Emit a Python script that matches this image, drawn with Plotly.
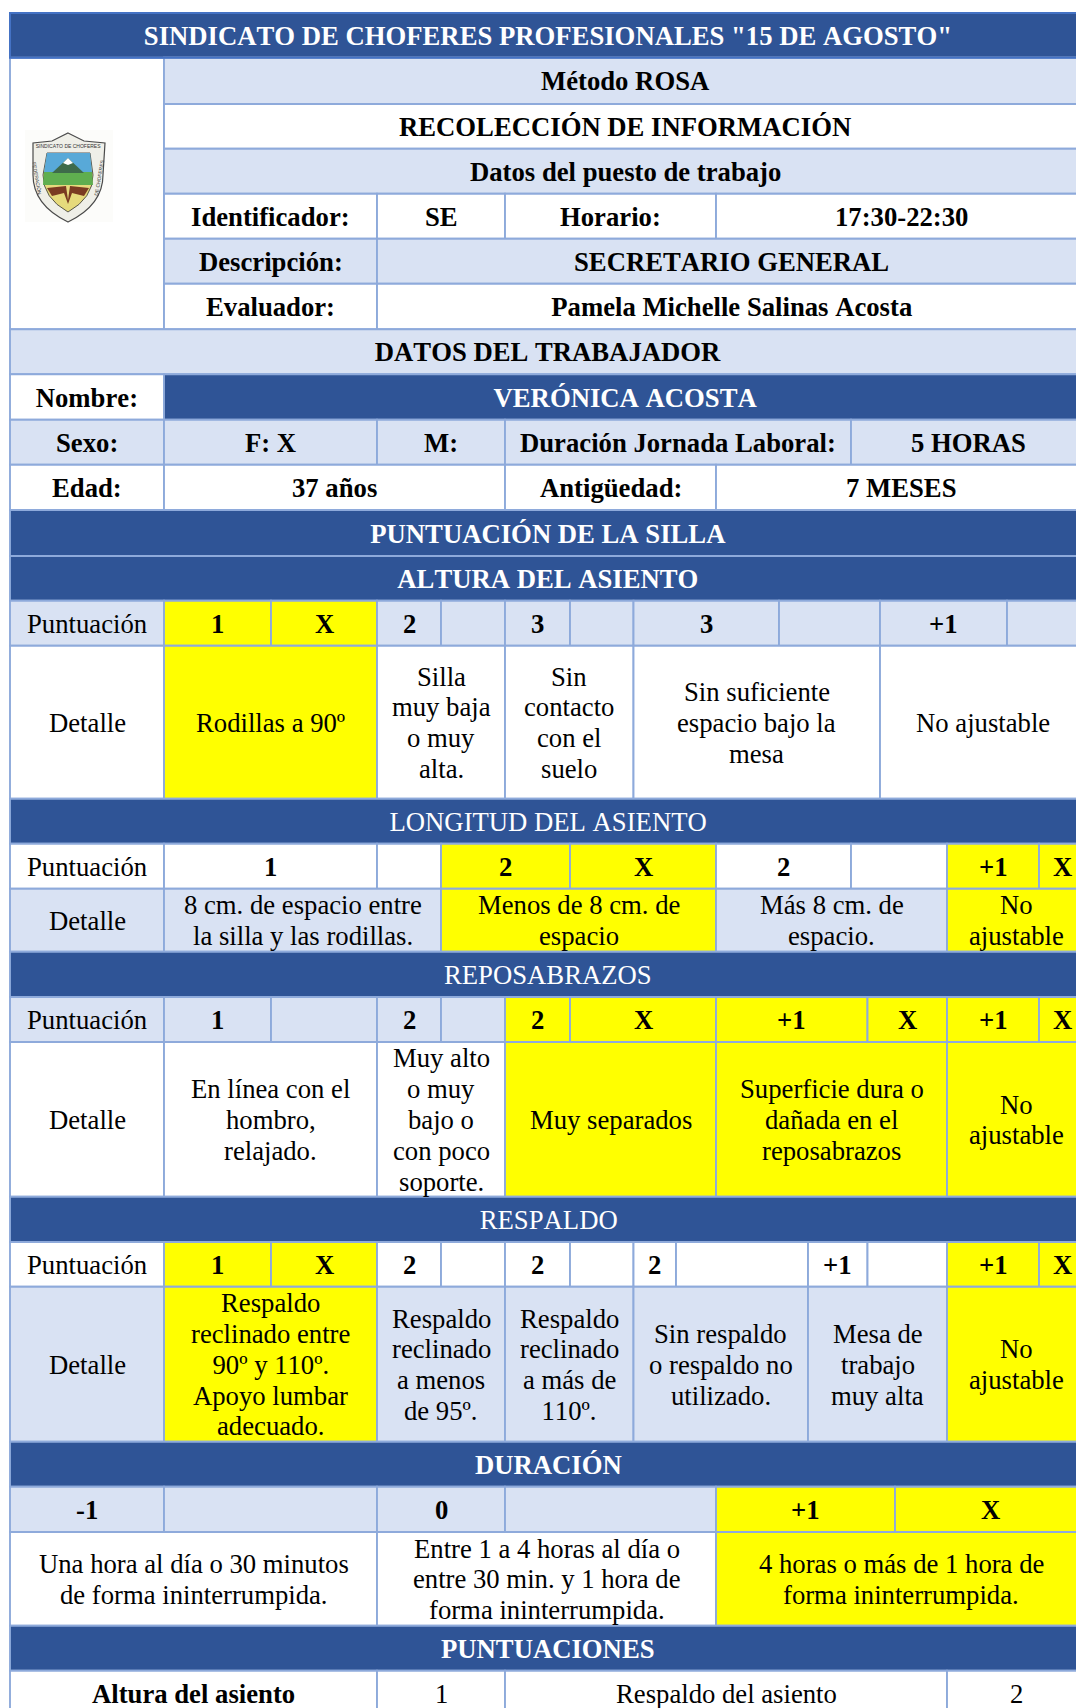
import plotly.graph_objects as go

# ---------- palette ----------
DARK = "#2F5496"
LIGHT = "#D9E2F3"
WHITE = "#FFFFFF"
YELLOW = "#FFFF00"
BORDER = "#8EAADB"
TITLE_BORDER = "#4472C4"
FONT = "Liberation Serif"
FONT_PX = 26.7
LINE_PX = 30.8

# ---------- table grid (column edges named a..z, row bottoms) ----------
COL = dict(a=10, b=164, c=271, d=377, e=441, f=505, g=570, h=633.5, i=676, j=716,
           k=779, l=808, m=851, n=867.5, o=880, p=895, q=947, r=1007, s=1039, z=1086)
ROW_EDGES = [13, 57.7, 104, 148.7, 193.7, 238.7, 283.7, 329.3, 374.3, 419.7, 464.7, 510,
             556, 600.7, 645.7, 798.7, 843.7, 888.7, 951.7, 997, 1042, 1196.7, 1242,
             1286.7, 1441.7, 1486.7, 1532, 1625.7, 1670.7, 1716]

# ---------- table content: (columns, text, fill, weight) ----------
B, N = "bold", "normal"
rows = [
    [("az", 'SINDICATO DE CHOFERES PROFESIONALES "15 DE AGOSTO"', DARK, B)],
    [("bz", "Método ROSA", LIGHT, B)],
    [("bz", "RECOLECCIÓN DE INFORMACIÓN", WHITE, B)],
    [("bz", "Datos del puesto de trabajo", LIGHT, B)],
    [("bd", "Identificador:", WHITE, B), ("df", "SE", WHITE, B), ("fj", "Horario:", WHITE, B), ("jz", "17:30-22:30", WHITE, B)],
    [("bd", "Descripción:", LIGHT, B), ("dz", "SECRETARIO GENERAL", LIGHT, B)],
    [("bd", "Evaluador:", WHITE, B), ("dz", "Pamela Michelle Salinas Acosta", WHITE, B)],
    [("az", "DATOS DEL TRABAJADOR", LIGHT, B)],
    [("ab", "Nombre:", WHITE, B), ("bz", "VERÓNICA ACOSTA", DARK, B)],
    [("ab", "Sexo:", LIGHT, B), ("bd", "F: X", LIGHT, B), ("df", "M:", LIGHT, B), ("fm", "Duración Jornada Laboral:", LIGHT, B), ("mz", "5 HORAS", LIGHT, B)],
    [("ab", "Edad:", WHITE, B), ("bf", "37 años", WHITE, B), ("fj", "Antigüedad:", WHITE, B), ("jz", "7 MESES", WHITE, B)],
    [("az", "PUNTUACIÓN DE LA SILLA", DARK, B)],
    [("az", "ALTURA DEL ASIENTO", DARK, B)],
    [("ab", "Puntuación", LIGHT, N), ("bc", "1", YELLOW, B), ("cd", "X", YELLOW, B), ("de", "2", LIGHT, B), ("ef", "", LIGHT, B),
     ("fg", "3", LIGHT, B), ("gh", "", LIGHT, B), ("hk", "3", LIGHT, B), ("ko", "", LIGHT, B), ("or", "+1", LIGHT, B), ("rz", "", LIGHT, B)],
    [("ab", "Detalle", WHITE, N), ("bd", "Rodillas a 90º", YELLOW, N), ("df", "Silla|muy baja|o muy|alta.", WHITE, N),
     ("fh", "Sin|contacto|con el|suelo", WHITE, N), ("ho", "Sin suficiente|espacio bajo la|mesa", WHITE, N), ("oz", "No ajustable", WHITE, N)],
    [("az", "LONGITUD DEL ASIENTO", DARK, N)],
    [("ab", "Puntuación", WHITE, N), ("bd", "1", WHITE, B), ("de", "", WHITE, B), ("eg", "2", YELLOW, B), ("gj", "X", YELLOW, B),
     ("jm", "2", WHITE, B), ("mq", "", WHITE, B), ("qs", "+1", YELLOW, B), ("sz", "X", YELLOW, B)],
    [("ab", "Detalle", LIGHT, N), ("be", "8 cm. de espacio entre|la silla y las rodillas.", LIGHT, N), ("ej", "Menos de 8 cm. de|espacio", YELLOW, N),
     ("jq", "Más 8 cm. de|espacio.", LIGHT, N), ("qz", "No|ajustable", YELLOW, N)],
    [("az", "REPOSABRAZOS", DARK, N)],
    [("ab", "Puntuación", LIGHT, N), ("bc", "1", LIGHT, B), ("cd", "", LIGHT, B), ("de", "2", LIGHT, B), ("ef", "", LIGHT, B), ("fg", "2", YELLOW, B),
     ("gj", "X", YELLOW, B), ("jn", "+1", YELLOW, B), ("nq", "X", YELLOW, B), ("qs", "+1", YELLOW, B), ("sz", "X", YELLOW, B)],
    [("ab", "Detalle", WHITE, N), ("bd", "En línea con el|hombro,|relajado.", WHITE, N), ("df", "Muy alto|o muy|bajo o|con poco|soporte.", WHITE, N),
     ("fj", "Muy separados", YELLOW, N), ("jq", "Superficie dura o|dañada en el|reposabrazos", YELLOW, N), ("qz", "No|ajustable", YELLOW, N)],
    [("az", "RESPALDO", DARK, N)],
    [("ab", "Puntuación", WHITE, N), ("bc", "1", YELLOW, B), ("cd", "X", YELLOW, B), ("de", "2", WHITE, B), ("ef", "", WHITE, B), ("fg", "2", WHITE, B),
     ("gh", "", WHITE, B), ("hi", "2", WHITE, B), ("il", "", WHITE, B), ("ln", "+1", WHITE, B), ("nq", "", WHITE, B), ("qs", "+1", YELLOW, B), ("sz", "X", YELLOW, B)],
    [("ab", "Detalle", LIGHT, N), ("bd", "Respaldo|reclinado entre|90º y 110º.|Apoyo lumbar|adecuado.", YELLOW, N), ("df", "Respaldo|reclinado|a menos|de 95º.", LIGHT, N),
     ("fh", "Respaldo|reclinado|a más de|110º.", LIGHT, N), ("hl", "Sin respaldo|o respaldo no|utilizado.", LIGHT, N), ("lq", "Mesa de|trabajo|muy alta", LIGHT, N),
     ("qz", "No|ajustable", YELLOW, N)],
    [("az", "DURACIÓN", DARK, B)],
    [("ab", "-1", LIGHT, B), ("bd", "", LIGHT, B), ("df", "0", LIGHT, B), ("fj", "", LIGHT, B), ("jp", "+1", YELLOW, B), ("pz", "X", YELLOW, B)],
    [("ad", "Una hora al día o 30 minutos|de forma ininterrumpida.", WHITE, N), ("dj", "Entre 1 a 4 horas al día o|entre 30 min. y 1 hora de|forma ininterrumpida.", WHITE, N),
     ("jz", "4 horas o más de 1 hora de|forma ininterrumpida.", YELLOW, N)],
    [("az", "PUNTUACIONES", DARK, B)],
    [("ad", "Altura del asiento", WHITE, B), ("df", "1", WHITE, N), ("fq", "Respaldo del asiento", WHITE, N), ("qz", "2", WHITE, N)],
]

shapes, annos = [], []


def add_cell(x0, x1, y0, y1, fill, edge=BORDER, width=1.9):
    shapes.append(dict(type="rect", xref="x", yref="y", x0=x0, x1=x1, y0=y0, y1=y1,
                       fillcolor=fill, line=dict(color=edge, width=width), layer="below"))


def add_text(xc, yc, text, fill, weight):
    lines = text.split("|")
    color = "white" if fill == DARK else "black"
    for i, line in enumerate(lines):
        offset = (i - (len(lines) - 1) / 2) * LINE_PX
        annos.append(dict(x=xc, y=yc + offset, xref="x", yref="y", text=line, showarrow=False,
                          xanchor="center", yanchor="middle",
                          font=dict(family=FONT, size=FONT_PX, color=color, weight=weight)))


# merged logo cell
add_cell(COL["a"], COL["b"], ROW_EDGES[1], ROW_EDGES[7], WHITE)

for r, row in enumerate(rows):
    y0, y1 = ROW_EDGES[r], ROW_EDGES[r + 1]
    for span, text, fill, weight in row:
        x0, x1 = COL[span[0]], COL[span[1]]
        add_cell(x0, x1, y0, y1, fill)
        if text:
            add_text((x0 + x1) / 2, (y0 + y1) / 2 + 0.6, text, fill, weight)

# the title row carries a stronger outline, on top of its neighbours
add_cell(COL["a"], COL["z"], ROW_EDGES[0], ROW_EDGES[1], "rgba(0,0,0,0)", TITLE_BORDER, 2)

# ---------- crest in the merged cell, drawn as vector shapes ----------
NONE = "rgba(0,0,0,0)"
crest = [
    ("M25 130 L113 130 L113 222 L25 222 Z", "#FCFCFA", NONE, 0),
    ("M68 133 L84 141 L105 143 L103 175 Q103 205 68 222 Q33 205 33 175 L33 143 L52 141 Z", "#EFEFE8", "#4A4A4A", 1.2),
    ("M47 153 L90 153 L93 175 Q93 198 68 212 Q43 198 43 175 Z", "#E6DA7C", "#333333", 0.8),
    ("M47 153 L90 153 L92 172 L44 172 Z", "#58A9D8", NONE, 0),
    ("M44 172 L92 172 L93 185 L43 185 Z", "#5FAE4F", NONE, 0),
    ("M52 173 L68 158 L84 173 Z", "#3E6B4A", NONE, 0),
    ("M63 163 L68 158 L73 163 L68 165 Z", "#FFFFFF", NONE, 0),
    ("M47 188 L66 186 L68 200 L70 186 L89 188 L84 196 L72 193 L68 204 L64 193 L52 196 Z", "#7A3B22", NONE, 0),
]
for path, fill, line, width in crest:
    shapes.append(dict(type="path", xref="x", yref="y", path=path, fillcolor=fill,
                       line=dict(color=line, width=width), layer="below"))
for xc, yc, label, angle in [(68, 146, "SINDICATO DE CHOFERES", 0),
                             (37, 178, "FEDERACIÓN", 80),
                             (99, 178, "DE CHOFERES", -80)]:
    annos.append(dict(x=xc, y=yc, xref="x", yref="y", text=label, showarrow=False, textangle=angle,
                      font=dict(family="Liberation Sans", size=5, color="#333333")))

fig = go.Figure()
fig.update_layout(
    width=1076, height=1708, margin=dict(l=0, r=0, t=0, b=0),
    paper_bgcolor="white", plot_bgcolor="white", showlegend=False,
    xaxis=dict(range=[0, 1076], visible=False, fixedrange=True),
    yaxis=dict(range=[1708, 0], visible=False, fixedrange=True),
    shapes=shapes, annotations=annos,
)
page_style = ("document.body.style.margin='0';"
              "var s=document.createElement('style');"
              "s.textContent='svg text{font-kerning:none;font-variant-ligatures:none;}';"
              "document.head.appendChild(s);")
fig.write_html("out.html", config={"displayModeBar": False}, post_script=page_style)
